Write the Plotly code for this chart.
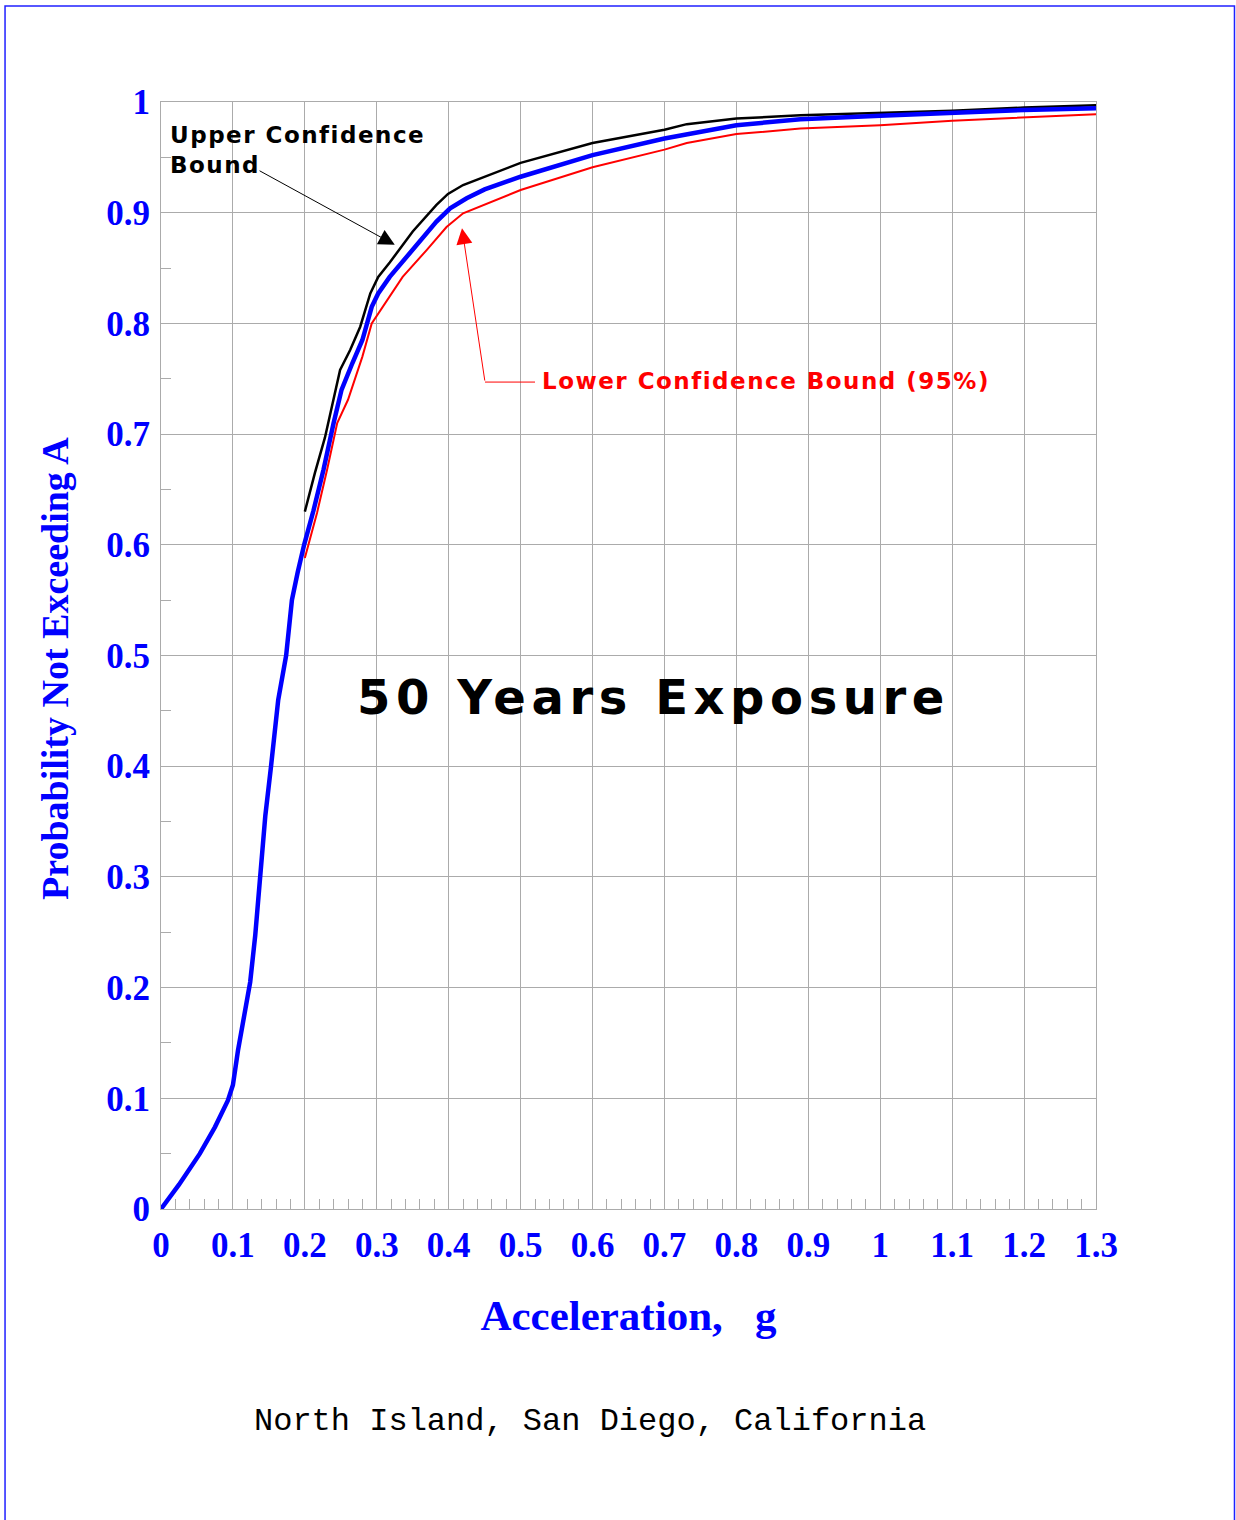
import plotly.graph_objects as go

# ---- data ----
blue_x = [0, 0.025, 0.054, 0.075, 0.093, 0.1, 0.107, 0.114, 0.124, 0.131, 0.138, 0.145, 0.153,
          0.163, 0.174, 0.182, 0.19, 0.199, 0.212, 0.226, 0.24, 0.251, 0.266, 0.28, 0.293, 0.302,
          0.318, 0.342, 0.365, 0.383, 0.402, 0.425, 0.45, 0.5, 0.6, 0.7, 0.8, 0.889, 1.0, 1.1, 1.2, 1.3]
blue_y = [0, 0.022, 0.05, 0.074, 0.098, 0.112, 0.143, 0.168, 0.205, 0.247, 0.30, 0.355, 0.40,
          0.46, 0.50, 0.55, 0.575, 0.60, 0.631, 0.668, 0.71, 0.74, 0.764, 0.785, 0.815, 0.827,
          0.842, 0.86, 0.878, 0.892, 0.904, 0.913, 0.921, 0.9325, 0.952, 0.967, 0.979, 0.9844,
          0.9876, 0.9907, 0.9928, 0.9943]

upper_x = [0.2, 0.214, 0.228, 0.24, 0.249, 0.263, 0.277, 0.291, 0.302, 0.318, 0.35, 0.383, 0.399,
           0.42, 0.5, 0.6, 0.7, 0.731, 0.8, 0.889, 1.0, 1.1, 1.2, 1.3]
upper_y = [0.63, 0.665, 0.697, 0.733, 0.758, 0.776, 0.797, 0.827, 0.842, 0.855, 0.883, 0.907, 0.917,
           0.925, 0.945, 0.963, 0.975, 0.980, 0.985, 0.988, 0.990, 0.992, 0.995, 0.997]

lower_x = [0.2, 0.217, 0.231, 0.245, 0.26, 0.28, 0.293, 0.305, 0.336, 0.369, 0.397, 0.42, 0.5,
           0.6, 0.7, 0.731, 0.8, 0.889, 1.0, 1.1, 1.2, 1.3]
lower_y = [0.588, 0.629, 0.668, 0.71, 0.731, 0.77, 0.80, 0.812, 0.842, 0.866, 0.887, 0.8995, 0.9205,
           0.941, 0.957, 0.963, 0.971, 0.976, 0.979, 0.983, 0.986, 0.989]

x_ticks = [0, 0.1, 0.2, 0.3, 0.4, 0.5, 0.6, 0.7, 0.8, 0.9, 1.0, 1.1, 1.2, 1.3]
x_tick_labels = ["0", "0.1", "0.2", "0.3", "0.4", "0.5", "0.6", "0.7", "0.8", "0.9", "1", "1.1", "1.2", "1.3"]
y_ticks = [0, 0.1, 0.2, 0.3, 0.4, 0.5, 0.6, 0.7, 0.8, 0.9, 1.0]
y_tick_labels = ["0", "0.1", "0.2", "0.3", "0.4", "0.5", "0.6", "0.7", "0.8", "0.9", "1"]

SERIF = "Liberation Serif"
SANS = "DejaVu Sans"
GRID = "#ababab"

fig = go.Figure()
fig.add_trace(go.Scatter(x=lower_x, y=lower_y, mode="lines", line=dict(color="#ff0000", width=2),
                         name="Lower Confidence Bound (95%)", showlegend=False))
fig.add_trace(go.Scatter(x=upper_x, y=upper_y, mode="lines", line=dict(color="#000000", width=2.5),
                         name="Upper Confidence Bound", showlegend=False))
fig.add_trace(go.Scatter(x=blue_x, y=blue_y, mode="lines", line=dict(color="#0000ff", width=4.5),
                         name="Probability", showlegend=False))

tickfont = dict(family=SERIF, size=35, color="#0000ff", weight="bold")

fig.update_xaxes(
    range=[0, 1.3], tickvals=x_ticks, ticktext=x_tick_labels, tickfont=tickfont,
    showgrid=True, gridcolor=GRID, gridwidth=1, zeroline=False,
    showline=True, linecolor=GRID, linewidth=1, mirror=True,
    ticks="inside", ticklen=10, tickcolor=GRID, ticklabelstandoff=5,
    minor=dict(dtick=0.02, tick0=0, ticks="inside", ticklen=10, tickcolor=GRID, showgrid=False),
    title=dict(text="Acceleration,\u00a0\u00a0\u00a0g",
               font=dict(family=SERIF, size=43, color="#0000ff", weight="bold"), standoff=35),
)
fig.update_yaxes(
    range=[0, 1], tickvals=y_ticks, ticktext=y_tick_labels, tickfont=tickfont,
    showgrid=True, gridcolor=GRID, gridwidth=1, zeroline=False,
    showline=True, linecolor=GRID, linewidth=1, mirror=True,
    ticks="inside", ticklen=10, tickcolor=GRID, ticklabelstandoff=3,
    minor=dict(dtick=0.05, tick0=0, ticks="inside", ticklen=10, tickcolor=GRID, showgrid=False),
)

annotations = [
    dict(x=-0.1134, y=0.4887, xref="paper", yref="paper", xanchor="center", yanchor="middle",
         textangle=-90, text="Probability Not Exceeding A", showarrow=False,
         font=dict(family=SERIF, size=38, color="#0000ff", weight="bold")),
    dict(x=0.0097, y=0.984, xref="x", yref="y", xanchor="left", yanchor="top", align="left",
         text='<span style="letter-spacing:1.5px">Upper Confidence<br>Bound</span>', showarrow=False,
         font=dict(family=SANS, size=23, color="#000000", weight="bold")),
    dict(x=0.325, y=0.871, xref="x", yref="y", ax=0.135, ay=0.9386, axref="x", ayref="y",
         text="", showarrow=True, arrowhead=2, arrowsize=3.2, arrowwidth=1, arrowcolor="#000000"),
    dict(x=0.4185, y=0.886, xref="x", yref="y", ax=0.4505, ay=0.747, axref="x", ayref="y",
         text="", showarrow=True, arrowhead=2, arrowsize=3.2, arrowwidth=1, arrowcolor="#ff0000"),
    dict(x=0.527, y=0.748, xref="x", yref="y", xanchor="left", yanchor="middle", align="left",
         text='<span style="letter-spacing:1.5px">Lower Confidence Bound (95%)</span>', showarrow=False,
         font=dict(family=SANS, size=23, color="#ff0000", weight="bold")),
    dict(x=0.2697, y=0.4625, xref="x", yref="y", xanchor="left", yanchor="middle",
         text='<span style="letter-spacing:5.6px">50 Years Exposure</span>', showarrow=False,
         font=dict(family=SANS, size=48, color="#000000", weight="bold")),
    dict(x=0.4588, y=-0.1924, xref="paper", yref="paper", xanchor="center", yanchor="middle",
         text="North Island, San Diego, California", showarrow=False,
         font=dict(family="Liberation Mono", size=32, color="#000000")),
]

shapes = [
    dict(type="line", xref="x", yref="y", x0=0.4505, y0=0.747, x1=0.52, y1=0.747,
         line=dict(color="#ff0000", width=1)),
    dict(type="rect", xref="paper", yref="paper", x0=-0.1668, x1=1.1481, y0=-0.30, y1=1.0867,
         line=dict(color="#2020ff", width=1.5), fillcolor="rgba(0,0,0,0)", layer="above"),
]

fig.update_layout(
    width=1236, height=1520,
    margin=dict(l=161, r=140, t=102, b=311, autoexpand=False),
    paper_bgcolor="white", plot_bgcolor="white",
    annotations=annotations, shapes=shapes, showlegend=False,
)

fig.write_html("out.html", config={"displayModeBar": False},
               post_script="document.body.style.margin='0';")
